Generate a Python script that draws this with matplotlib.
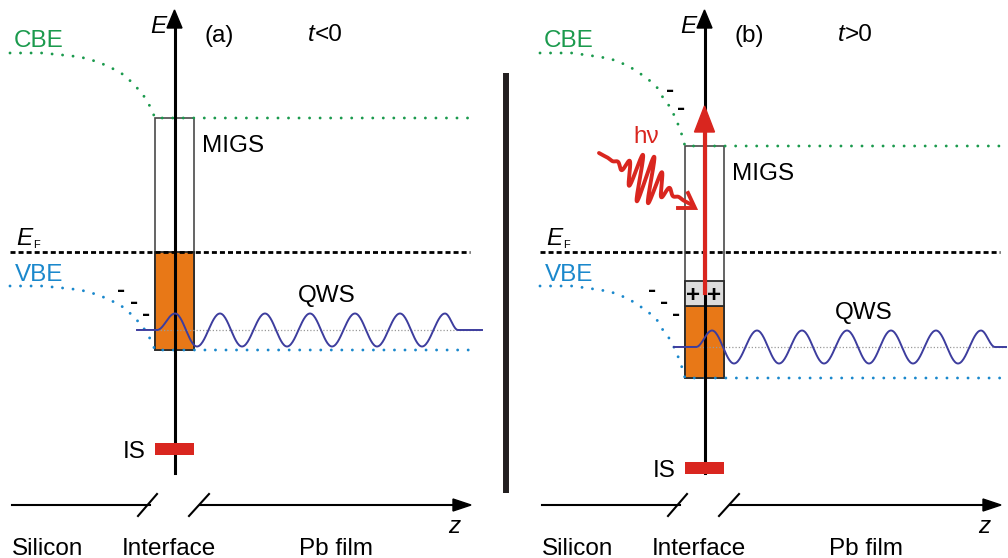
import numpy as np
import matplotlib
matplotlib.use('Agg')
import matplotlib.pyplot as plt
from matplotlib.patches import Rectangle, Polygon

plt.rcParams['font.family'] = ['Liberation Sans', 'DejaVu Sans']

# ---------------- data (pixel coordinates of the schematic) ----------------
panel_offset = [0, 530]            # horizontal shift of panel (b)
panel_labels = ['(a)', '(b)']
time_signs = ['<0', '>0']
region_labels = ['Silicon', 'Interface', 'Pb film']
region_x = [12, 122, 299]

# band-bending profile: distance to interface (px) vs fraction of bending
bend_dx = [-145, -113, -93, -75, -63, -55, -45, -37, -28, -22, -15, -9, -4, 0]
bend_frac = [0, 0, 0.03, 0.06, 0.11, 0.15, 0.22, 0.28, 0.37, 0.48, 0.58, 0.71, 0.85, 1.0]

interface_left = [155, 685]
interface_right = [194, 724]
axis_x = [174.5, 704.5]
cbe_far = [53, 53]
cbe_int = [118, 146]
vbe_far = [286, 286]
vbe_int = [350, 378]
band_end = [470, 1000]
ef_y = 252
filled_top = [252, 306]
hole_top = [None, 281]
is_center = [449, 468]

# quantum well state: extrema nodes
wave_x = [[137, 157, 175, 197, 220, 242, 265, 287, 310, 332, 355, 377, 400, 422, 445, 458, 482],
          [674, 696, 712, 734, 757, 779, 802, 824, 847, 869, 891, 913, 936, 958, 981, 995, 1006]]
wave_base = [330, 347]
wave_amp = [16.5, 16.5]

# charges (minus signs) positions
minus_vbe = [[(121, 290), (134, 302), (146, 314)], [(652, 290), (664, 302), (676, 314)]]
minus_cbe = [[], [(670, 91), (681, 108)]]

GREEN = '#1b9a4d'
BLUE = '#1a88cc'
ORANGE = '#e87817'
RED = '#d9261f'
WAVE = '#3d3d9e'
FS = 17.5

fig = plt.figure(figsize=(10.08, 5.58), dpi=100)
ax = fig.add_axes([0, 0, 1, 1])
ax.set_xlim(0, 1008)
ax.set_ylim(558, 0)
ax.axis('off')

dotted = dict(linestyle=(0, (0.01, 3.6)), lw=2.1, dash_capstyle='round')


def band(ax, i, far, near, color):
    xi = interface_left[i]
    xs = [xi + d for d in bend_dx] + [band_end[i]]
    ys = [far + f * (near - far) for f in bend_frac] + [near]
    ax.plot(xs, ys, color=color, zorder=3.5, **dotted)


def qws(ax, i):
    xs, ys = [], []
    nodes_x = wave_x[i]
    b = wave_base[i]
    a = wave_amp[i]
    vals = [b, b]
    n_mid = len(nodes_x) - 4
    for k in range(n_mid):
        vals.append(b - a if k % 2 == 0 else b + a)
    vals += [b, b]
    for k in range(len(nodes_x) - 1):
        t = np.linspace(0, 1, 30)
        x = nodes_x[k] + (nodes_x[k + 1] - nodes_x[k]) * t
        y = vals[k] + (vals[k + 1] - vals[k]) * (1 - np.cos(np.pi * t)) / 2
        xs.append(x)
        ys.append(y)
    ax.plot([nodes_x[1], nodes_x[-1]], [b, b], color='#999999', lw=0.9,
            linestyle=(0, (1, 1.6)), zorder=3.6)
    ax.plot(np.concatenate(xs), np.concatenate(ys), color=WAVE, lw=1.4, zorder=5)


for i, x0 in enumerate(panel_offset):
    L, R = interface_left[i], interface_right[i]
    ax_x = axis_x[i]

    # bands
    band(ax, i, cbe_far[i], cbe_int[i], GREEN)
    band(ax, i, vbe_far[i], vbe_int[i], BLUE)
    ax.plot([x0 + 10, band_end[i]], [ef_y, ef_y], color='black', lw=2.0,
            linestyle=(0, (1.8, 1.1)), zorder=3.5)

    # MIGS box
    ax.add_patch(Rectangle((L, cbe_int[i]), R - L, vbe_int[i] - cbe_int[i],
                           facecolor='white', edgecolor='#4a4a4a', lw=1.2, zorder=3))
    ax.add_patch(Rectangle((L, filled_top[i]), R - L, vbe_int[i] - filled_top[i],
                           facecolor=ORANGE, edgecolor='#2a2a2a', lw=1.3, zorder=3))
    if hole_top[i] is not None:
        ax.add_patch(Rectangle((L, hole_top[i]), R - L, filled_top[i] - hole_top[i],
                               facecolor='#dcdcdc', edgecolor='#2a2a2a', lw=1.3, zorder=3))

    # energy axis
    ax.plot([ax_x, ax_x], [473, 26], color='black', lw=2.2, zorder=4)
    ax.add_patch(Polygon([[ax_x - 7.5, 28], [ax_x + 7.5, 28], [ax_x, 10]],
                         closed=True, color='black', zorder=4))

    # quantum well state
    qws(ax, i)

    # interface state
    ax.add_patch(Rectangle((L, is_center[i] - 6), R - L, 12, facecolor=RED,
                           edgecolor='none', zorder=6))

    # z axis with break
    zy = 505
    ax.plot([x0 + 12, x0 + 150], [zy, zy], color='black', lw=1.5, zorder=4)
    ax.plot([x0 + 138, x0 + 157], [516, 494], color='black', lw=1.5, zorder=4)
    ax.plot([x0 + 189, x0 + 209], [516, 494], color='black', lw=1.5, zorder=4)
    ax.plot([x0 + 200, x0 + 455], [zy, zy], color='black', lw=1.5, zorder=4)
    ax.add_patch(Polygon([[x0 + 453, zy - 6], [x0 + 453, zy + 6], [x0 + 471, zy]],
                         closed=True, color='black', zorder=4))

    # texts
    ax.text(x0 + 150, 33, 'E', fontsize=FS, style='italic', va='baseline', zorder=7)
    ax.text(x0 + 205, 42, panel_labels[i], fontsize=FS, va='baseline', zorder=7)
    ax.text(x0 + 308, 41, 't', fontsize=FS, style='italic', va='baseline', zorder=7)
    ax.text(x0 + 315, 41, time_signs[i], fontsize=FS, va='baseline', zorder=7)
    ax.text(x0 + 14, 47, 'CBE', fontsize=FS, color=GREEN, va='baseline', zorder=7)
    ax.text(x0 + 15, 281, 'VBE', fontsize=FS, color=BLUE, va='baseline', zorder=7)
    ax.text(x0 + 16, 245, 'E', fontsize=FS, style='italic', va='baseline', zorder=7)
    ax.text(x0 + 33, 248, 'F', fontsize=8, va='baseline', zorder=7)
    ax.text(R + 8, cbe_int[i] + 34, 'MIGS', fontsize=FS, va='baseline', zorder=7)
    ax.text(x0 + 298 + 7 * i, wave_base[i] - 28, 'QWS', fontsize=FS, va='baseline', zorder=7)
    ax.text(L - 32, is_center[i] + 9, 'IS', fontsize=FS, va='baseline', zorder=7)
    ax.text(x0 + 448, 533, 'z', fontsize=FS, style='italic', va='baseline', zorder=7)
    for lab, rx in zip(region_labels, region_x):
        ax.text(x0 + rx, 555, lab, fontsize=FS, va='baseline', zorder=7)
    for (mx, my) in minus_vbe[i] + minus_cbe[i]:
        ax.text(mx, my + 6.5, '-', fontsize=FS, fontweight='bold', ha='center',
                va='baseline', zorder=7)

# ++ holes in panel (b)
for px in [693, 714]:
    ax.text(px, 302, '+', fontsize=FS, fontweight='bold', ha='center', va='baseline', zorder=7)

# separator bar
ax.plot([505.5, 505.5], [73, 493], color='#231f20', lw=4.3, solid_capstyle='butt', zorder=4)

# excitation arrow in (b)
ax.plot([axis_x[1], axis_x[1]], [293, 128], color=RED, lw=3.0, zorder=6)
ax.add_patch(Polygon([[axis_x[1] - 10, 132], [axis_x[1] + 10, 132], [axis_x[1], 106]],
                     closed=True, color=RED, zorder=6))

# photon wave packet
ph_start = np.array([599.0, 153.0])
ph_end = np.array([692.0, 205.0])
d = ph_end - ph_start
Lp = np.hypot(*d)
u = d / Lp
nvec = np.array([0.25, -0.97])
s = np.linspace(0, Lp, 800)
off = 25 * np.exp(-((s - 0.5 * Lp) / 20.0) ** 2) * np.sin(2 * np.pi * (s - 0.5 * Lp) / 12.0)
pts = ph_start[None, :] + s[:, None] * u[None, :] + off[:, None] * nvec[None, :]
ax.plot(pts[:, 0], pts[:, 1], color=RED, lw=2.8, solid_capstyle='round', zorder=6)
ax.plot([678, 695, 688], [208, 208, 193], color=RED, lw=2.8, solid_joinstyle='miter', zorder=6)
ax.text(633, 143, 'h\u03bd', fontsize=FS, color=RED, va='baseline', zorder=7)

fig.savefig('out.png', dpi=100)
